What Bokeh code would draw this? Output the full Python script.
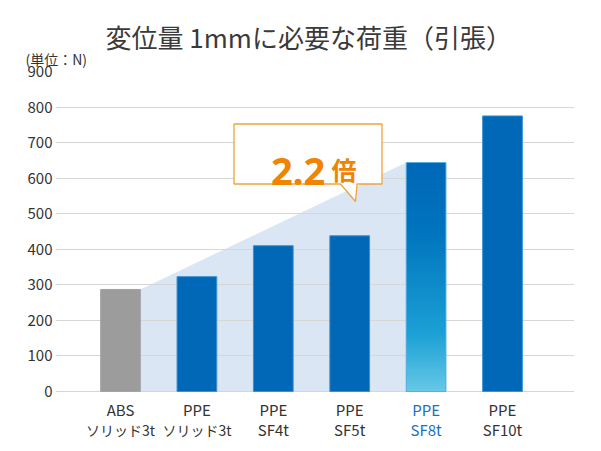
import numpy as np
from bokeh.plotting import figure
from bokeh.models import Label, FixedTicker, Range1d, Title
from bokeh.embed import file_html
from bokeh.resources import INLINE

# ---------------- data ----------------
label_line1 = ["ABS", "PPE", "PPE", "PPE", "PPE", "PPE"]
label_line2 = ["ソリッド3t", "ソリッド3t", "SF4t", "SF5t", "SF8t", "SF10t"]
loads = [287, 323, 410, 438, 644, 775]          # N
y_ticks = [0, 100, 200, 300, 400, 500, 600, 700, 800, 900]
title_text = "変位量 1mmに必要な荷重（引張）"
unit_text = "(単位：N)"
ratio_value = "2.2"
ratio_unit = "倍"
highlight_index = 4          # PPE SF8t
base_index = 0               # ABS

# ---------------- layout ----------------
W, H = 601, 451
FL, FR, FT = 55, 574, 71          # frame edges in px
Y0_PX, Y900_PX = 391, 71          # pixel rows of 0 and 900
FB = H                            # frame extends to canvas bottom (room for category labels)
cat0_px, step_px = 120, 76.4
x_start = (FL - cat0_px) / step_px
x_end = (FR - cat0_px) / step_px
y_top = 900
bar_w = 0.52

def px2x(px):
    return x_start + (px - FL) / (FR - FL) * (x_end - x_start)

def py2y(py):
    return (Y0_PX - py) / (Y0_PX - Y900_PX) * y_top

y_bottom = py2y(FB)

FONT = "Noto Sans CJK JP"
TXT = "#333333"
BLUE = "#0068b7"
GRAY = "#9c9c9c"
SHADE = "#dae6f3"
ORANGE = "#f08300"

p = figure(width=W, height=H, output_backend="svg", toolbar_location=None,
           x_range=Range1d(x_start, x_end), y_range=Range1d(y_bottom, y_top),
           min_border_left=FL, min_border_right=W - FR,
           min_border_top=FT, min_border_bottom=0)
p.outline_line_color = None
p.background_fill_color = "white"
p.border_fill_color = "white"

# unit label (closest to frame) and main title above it
p.add_layout(Title(text=unit_text, align="left", offset=25 - FL,
                   text_font=FONT, text_font_size="14px",
                   text_font_style="normal", text_color=TXT, standoff=6), "above")
p.add_layout(Title(text=title_text, align="left", offset=105 - FL,
                   text_font=FONT, text_font_size="26px",
                   text_font_style="normal", text_color="#3a3a3a", standoff=-23), "above")

# axes
p.xaxis.visible = False
yax = p.yaxis[0]
yax.ticker = FixedTicker(ticks=y_ticks)
yax.axis_line_color = None
yax.major_tick_line_color = None
yax.minor_tick_line_color = None
yax.major_tick_out = 0
yax.major_tick_in = 0
yax.minor_tick_out = 0
yax.major_label_standoff = 3
yax.major_label_text_font = FONT
yax.major_label_text_font_size = "15px"
yax.major_label_text_color = TXT
p.xgrid.visible = False
p.ygrid.ticker = FixedTicker(ticks=y_ticks)
p.ygrid.grid_line_color = "#d6d6d6"
p.ygrid.grid_line_width = 1.2

xs = list(range(len(loads)))

# shaded increase area from ABS to SF8t
sx = [base_index + bar_w / 2, highlight_index - bar_w / 2,
      highlight_index - bar_w / 2, base_index + bar_w / 2]
sy = [loads[base_index], loads[highlight_index], 0, 0]
p.patch(sx, sy, fill_color=SHADE, line_color=None, level="image")

# plain bars
plain = [i for i in xs if i != highlight_index]
colors = [GRAY if i == base_index else BLUE for i in plain]
lines = ["#a4a4a4" if i == base_index else "#3d8fd3" for i in plain]
p.vbar(x=plain, width=bar_w, top=[loads[i] for i in plain], bottom=0,
       fill_color=colors, line_color=lines, line_width=1)

# gradient bar (highlight): overlapping slices drawn top to bottom
stops_t = [0.0, 0.3, 0.75, 1.0]
stops_c = [(0, 104, 183), (0, 116, 190), (28, 160, 213), (100, 200, 230)]
n = 90
top = loads[highlight_index]
edges = np.linspace(top, 0, n + 1)[:-1]
seg_colors = []
for k in range(n):
    t = k / (n - 1)
    rgb = [int(round(np.interp(t, stops_t, [c[j] for c in stops_c]))) for j in range(3)]
    seg_colors.append("#%02x%02x%02x" % tuple(rgb))
p.quad(left=highlight_index - bar_w / 2, right=highlight_index + bar_w / 2,
       top=edges, bottom=0, fill_color=seg_colors, line_color=None)
p.vbar(x=[highlight_index], width=bar_w, top=[top], bottom=0,
       fill_color=None, line_color="#5aaee0", line_width=1)

# category labels
for i in xs:
    col = "#1a6fc0" if i == highlight_index else TXT
    for txt, py in ((label_line1[i], 409), (label_line2[i], 429)):
        size = "14px" if any(ord(ch) > 0x3000 for ch in txt) else "15px"
        p.add_layout(Label(x=i, y=py2y(py), text=txt, text_align="center",
                           text_baseline="middle", text_font=FONT,
                           text_font_size=size, text_color=col))

# callout box
bx0, bx1, by0, by1 = 233.5, 381.5, 123.5, 183.5
callout_px = [(bx0, by0), (bx1, by0), (bx1, by1), (356.5, by1), (355, 201),
              (340, by1), (bx0, by1)]
p.patch([px2x(a) for a, b in callout_px], [py2y(b) for a, b in callout_px],
        fill_color="white", line_color="#f0a23c", line_width=1.3)
p.add_layout(Label(x=px2x(270.5), y=py2y(170.5), text=ratio_value,
                   text_align="left", text_baseline="alphabetic",
                   text_font="Noto Sans", text_font_style="bold",
                   text_font_size="38px", text_color=ORANGE))
p.add_layout(Label(x=px2x(331), y=py2y(168.5), text=ratio_unit,
                   text_align="left", text_baseline="alphabetic",
                   text_font=FONT, text_font_style="bold",
                   text_font_size="25px", text_color=ORANGE))

open("out.html", "w").write(file_html(p, INLINE))
